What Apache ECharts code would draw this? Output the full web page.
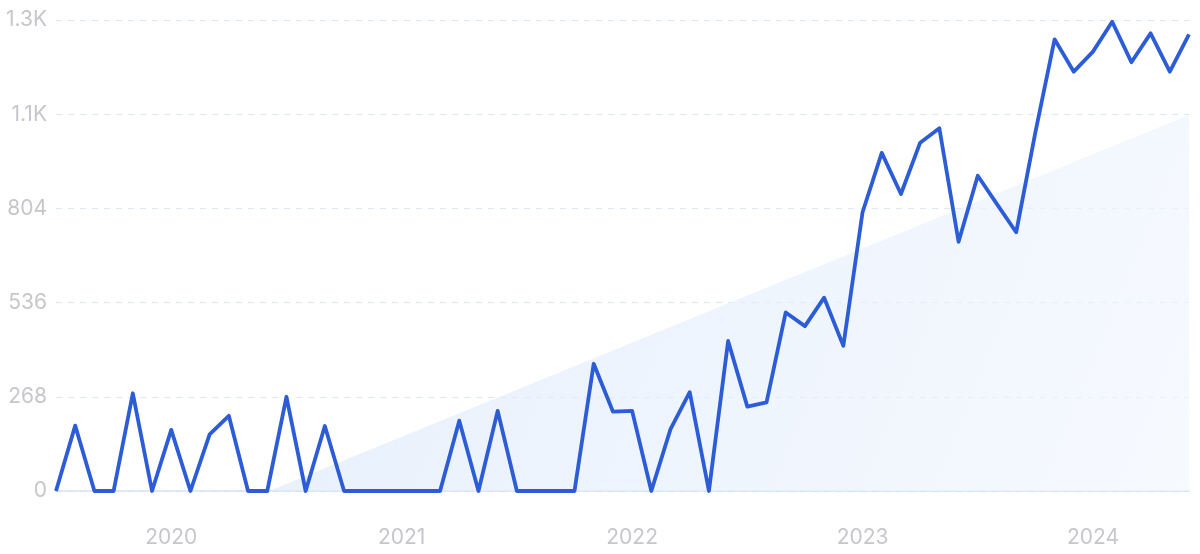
<!DOCTYPE html>
<html>
<head>
<meta charset="utf-8">
<script src="https://cdn.jsdelivr.net/npm/echarts@6/dist/echarts.min.js"></script>
<style>
html,body{margin:0;padding:0;background:#fff;}
#chart{width:1200px;height:554px;}
</style>
</head>
<body>
<div id="chart"></div>
<script>
const months = [
 '2019-07','2019-08','2019-09','2019-10','2019-11','2019-12',
 '2020-01','2020-02','2020-03','2020-04','2020-05','2020-06','2020-07','2020-08','2020-09','2020-10','2020-11','2020-12',
 '2021-01','2021-02','2021-03','2021-04','2021-05','2021-06','2021-07','2021-08','2021-09','2021-10','2021-11','2021-12',
 '2022-01','2022-02','2022-03','2022-04','2022-05','2022-06','2022-07','2022-08','2022-09','2022-10','2022-11','2022-12',
 '2023-01','2023-02','2023-03','2023-04','2023-05','2023-06','2023-07','2023-08','2023-09','2023-10','2023-11','2023-12',
 '2024-01','2024-02','2024-03','2024-04','2024-05','2024-06'
];
const volume = [
 0,186,0,0,278,0,
 174,0,161,214,0,0,268,0,185,0,0,0,
 0,0,0,200,0,228,0,0,0,0,362,226,
 228,0,176,281,0,427,240,252,508,469,550,413,
 793,962,845,991,1032,709,897,816,736,1020,1285,1193,
 1250,1335,1220,1302,1193,1299
];
// trend band: [month index, value] at its start and its end
const trendStart = [11.1, 0];
const trendEnd = [59, 1070];
const yTicks = [0, 268, 536, 804, 1072, 1340];

const chart = echarts.init(document.getElementById('chart'));
const labelColor = '#c6c6cb';
const font = 'Inter, "Noto Sans", sans-serif';
chart.setOption({
  animation: false,
  grid: {left: 56, right: 11, top: 20, bottom: 63},
  xAxis: [{
    type: 'category',
    data: months,
    boundaryGap: false,
    axisLine: {show: true, lineStyle: {color: '#d6e3f6', width: 1.5}},
    axisTick: {show: false},
    axisLabel: {
      interval: (i, v) => v.endsWith('-01'),
      formatter: v => v.slice(0, 4),
      color: labelColor, fontSize: 21, fontFamily: font, margin: 36
    },
    splitLine: {show: false}
  }, {
    type: 'value', min: 0, max: months.length - 1, show: false
  }],
  yAxis: {
    type: 'value',
    min: yTicks[0], max: yTicks[yTicks.length - 1], interval: 268,
    axisLine: {show: false}, axisTick: {show: false},
    axisLabel: {
      color: labelColor, fontSize: 21, fontFamily: font, margin: 9,
      formatter: v => v >= 1000 ? (v / 1000).toFixed(1) + 'K' : String(v)
    },
    splitLine: {lineStyle: {color: '#dfe7f3', type: [6, 6], width: 1.2}}
  },
  series: [{
    type: 'line',
    xAxisIndex: 1,
    data: [trendStart, trendEnd, [trendEnd[0], 0]],
    symbol: 'none',
    lineStyle: {width: 0},
    areaStyle: {
      origin: 'start',
      color: new echarts.graphic.LinearGradient(0, 0, 1, 1, [
        {offset: 0, color: '#dbe8fa'},
        {offset: 1, color: '#f2f7fe'}
      ])
    },
    z: 1
  }, {
    type: 'line',
    data: volume,
    symbol: 'none',
    lineStyle: {color: '#2d5dd6', width: 3.8, join: 'round'},
    z: 3
  }]
});
</script>
</body>
</html>
